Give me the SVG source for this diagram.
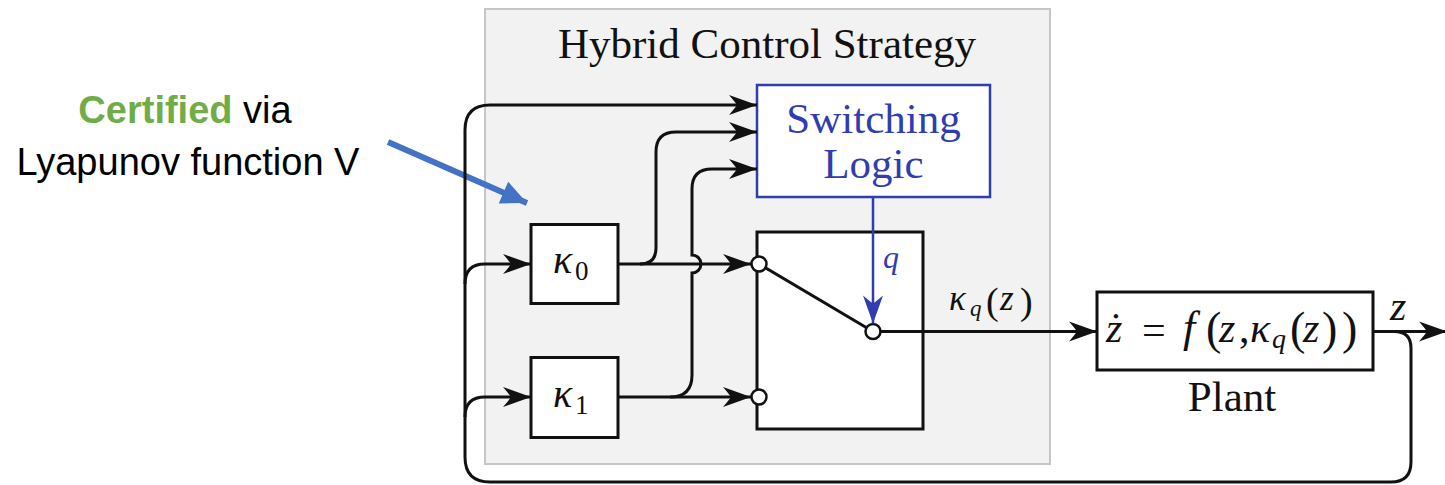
<svg xmlns="http://www.w3.org/2000/svg" width="1445" height="485" viewBox="0 0 1445 485">
  <style>
    .wire { fill: none; stroke: #111; stroke-width: 3; }
    .blk { fill: #fff; stroke: #111; stroke-width: 3; }
    .serif { font-family: "Liberation Serif", "Times New Roman", serif; fill: #111; }
    .math { font-family: "Liberation Serif", "Times New Roman", serif; font-style: italic; fill: #111; }
    .up { font-style: normal; }
    .sans { font-family: "Liberation Sans", Arial, sans-serif; fill: #000; }
    .port { fill: #fff; stroke: #111; stroke-width: 2.5; }
    .logic { fill: #2f3db0; }
  </style>
  <defs>
    <marker id="stealth" markerUnits="userSpaceOnUse" markerWidth="32" markerHeight="24" viewBox="-30 -12 32 24" refX="0" refY="0" orient="auto">
      <path d="M0,0 L-28,-10 Q-22,-3 -20,0 Q-22,3 -28,10 Z" fill="#111"/>
    </marker>
    <marker id="stealthBlue" markerUnits="userSpaceOnUse" markerWidth="32" markerHeight="24" viewBox="-30 -12 32 24" refX="0" refY="0" orient="auto">
      <path d="M0,0 L-28,-10 Q-22,-3 -20,0 Q-22,3 -28,10 Z" fill="#2f3db0"/>
    </marker>
    <marker id="callout" markerUnits="userSpaceOnUse" markerWidth="30" markerHeight="30" viewBox="-26 -13 28 26" refX="0" refY="0" orient="auto">
      <path d="M0,0 L-24,-11 L-24,11 Z" fill="#4472c4"/>
    </marker>
  </defs>

  <!-- controller container -->
  <g id="hybrid-strategy">
    <rect x="485" y="9" width="565" height="455" fill="#f2f2f2" stroke="#c6c6c6" stroke-width="2"/>
    <text class="serif" x="767" y="58" font-size="43" text-anchor="middle">Hybrid Control Strategy</text>
  </g>

  <!-- annotation -->
  <g id="certificate-note">
    <text class="sans" x="185" y="123" font-size="38" text-anchor="middle"><tspan fill="#70ad47" font-weight="bold">Certified</tspan> via</text>
    <text class="sans" x="188" y="175" font-size="38" text-anchor="middle">Lyapunov function V</text>
    <line x1="388" y1="142" x2="527" y2="203" stroke="#4472c4" stroke-width="6" marker-end="url(#callout)"/>
  </g>

  <g id="switching-logic">
    <rect x="757" y="85" width="233" height="112" fill="#fff" stroke="#2f3db0" stroke-width="2.5"/>
    <text class="serif logic" x="873.5" y="133" font-size="43" text-anchor="middle" style="fill:#2f3db0">Switching</text>
    <text class="serif logic" x="873.5" y="178" font-size="43" text-anchor="middle" style="fill:#2f3db0">Logic</text>
  </g>

  <g id="kappa0">
    <rect class="blk" x="531" y="224.5" width="87" height="79"/>
    <text class="math" font-size="40"><tspan x="553" y="273">κ</tspan><tspan class="up" font-size="27" x="575" y="280">0</tspan></text>
  </g>

  <g id="kappa1">
    <rect class="blk" x="531" y="357.5" width="87" height="80"/>
    <text class="math" font-size="40"><tspan x="553" y="407">κ</tspan><tspan class="up" font-size="27" x="575" y="414">1</tspan></text>
  </g>

  <g id="switch">
    <rect class="blk" x="757" y="232" width="166" height="197"/>
    <line class="wire" x1="759" y1="264" x2="873" y2="331.5"/>
    <circle class="port" cx="759" cy="264" r="7.5"/>
    <circle class="port" cx="759" cy="397" r="7.5"/>
    <circle class="port" cx="873" cy="331.5" r="7.5"/>
  </g>

  <g id="plant">
    <rect class="blk" x="1097" y="292" width="276" height="78"/>
    <text class="math" font-size="42"><tspan x="1106" y="342">ż</tspan><tspan class="up" x="1142" y="344">=</tspan><tspan font-size="44" x="1183" y="342">f</tspan><tspan class="up" font-size="46" x="1206" y="344">(</tspan><tspan x="1219" y="342">z</tspan><tspan class="up" x="1239" y="342">,</tspan><tspan x="1250" y="342">κ</tspan><tspan font-size="28" x="1272" y="348">q</tspan><tspan class="up" font-size="46" x="1290" y="344">(</tspan><tspan x="1303" y="342">z</tspan><tspan class="up" font-size="46" x="1322" y="344">)</tspan><tspan class="up" font-size="46" x="1342" y="344">)</tspan></text>
    <text class="serif" x="1232" y="411" font-size="43" text-anchor="middle">Plant</text>
  </g>

  <!-- signal lines -->
  <g id="connectors">
    <!-- state feedback loop -->
    <path class="wire" d="M1373,331.5 L1447,331.5" marker-end="url(#stealth)"/>
    <path class="wire" d="M1394,331.5 Q1411,331.5 1411,348 L1411,462 Q1411,482 1391,482 L490,482 Q465,482 465,457 L465,130 Q465,105 490,105 L757,105" marker-end="url(#stealth)"/>
    <path class="wire" d="M465,284 Q465,264 485,264 L531,264" marker-end="url(#stealth)"/>
    <path class="wire" d="M465,417 Q465,397 485,397 L531,397" marker-end="url(#stealth)"/>
    <!-- kappa0 output -->
    <path class="wire" d="M618,264 L751,264" marker-end="url(#stealth)"/>
    <path class="wire" d="M640,264 Q656,264 656,248 L656,152 Q656,132 676,132 L757,132" marker-end="url(#stealth)"/>
    <!-- kappa1 output, hopping over the kappa0 line -->
    <path class="wire" d="M618,397 L751,397" marker-end="url(#stealth)"/>
    <path class="wire" d="M670,397 Q692,397 692,375 L692,273 A9,9 0 0 0 692,255 L692,189 Q692,169 712,169 L757,169" marker-end="url(#stealth)"/>
    <!-- mode signal -->
    <path d="M873,197 L873,323.5" fill="none" stroke="#2f3db0" stroke-width="2.5" marker-end="url(#stealthBlue)"/>
    <text class="math logic" x="883" y="268" font-size="32" style="fill:#2f3db0">q</text>
    <!-- control output -->
    <path class="wire" d="M880.5,331.5 L1097,331.5" marker-end="url(#stealth)"/>
    <text class="math" font-size="35"><tspan x="949" y="310">κ</tspan><tspan font-size="23" x="970" y="316">q</tspan><tspan class="up" font-size="38" x="986" y="314">(</tspan><tspan x="1000" y="310">z</tspan><tspan class="up" font-size="38" x="1020" y="314">)</tspan></text>
    <text class="math" x="1390" y="320" font-size="42">z</text>
  </g>
</svg>
